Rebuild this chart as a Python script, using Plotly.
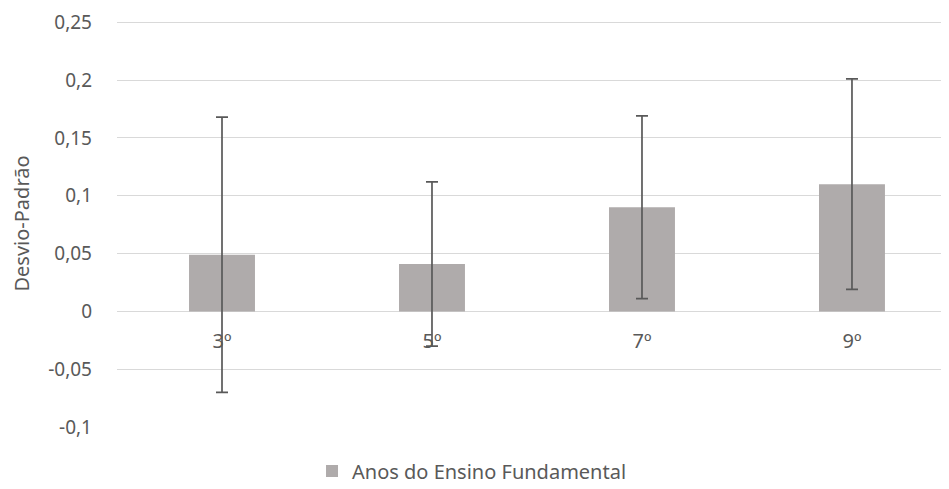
import plotly.graph_objects as go

categories = ["3º", "5º", "7º", "9º"]
values = [0.049, 0.041, 0.090, 0.110]
errors = [0.119, 0.071, 0.079, 0.091]
series_name = "Anos do Ensino Fundamental"
y_tickvals = [0.25, 0.2, 0.15, 0.1, 0.05, 0, -0.05, -0.1]
y_ticktext = ["0,25", "0,2", "0,15", "0,1", "0,05", "0", "-0,05", "-0,1"]

FONT = "Noto Sans"
TXT = "#595959"

fig = go.Figure()
fig.add_trace(go.Bar(
    x=list(range(len(categories))),
    y=values,
    name=series_name,
    marker=dict(color="#AFABAB", line=dict(width=0)),
    width=0.314,
    error_y=dict(type="data", array=errors, visible=True,
                 color="#595959", thickness=1.7, width=6),
    showlegend=True,
))

# page has an 8px body margin; figure is sized so the plot fills the window
y0, y1 = -0.1, 0.252
plot_h = 407.31
fig.update_layout(
    width=941, height=481,
    paper_bgcolor="white", plot_bgcolor="white",
    margin=dict(l=109, r=0, t=11.69, b=62, autoexpand=False),
    font=dict(family=FONT, size=19, color=TXT),
    showlegend=True,
    legend=dict(orientation="h", x=0.2344, xanchor="left",
                y=-(44 / plot_h), yanchor="middle",
                font=dict(family=FONT, size=20, color=TXT), itemwidth=30),
    xaxis=dict(
        range=[-0.5, 3.462],
        tickvals=list(range(len(categories))),
        ticktext=categories,
        anchor="free",
        position=(0 - y0) / (y1 - y0),
        showgrid=False, showline=False, zeroline=False,
        ticks="", ticklabelstandoff=16, automargin=False,
        tickfont=dict(family=FONT, size=20, color=TXT),
    ),
    yaxis=dict(
        range=[y0, y1],
        tickvals=y_tickvals,
        ticktext=y_ticktext,
        showgrid=True, gridcolor="#D9D9D9", gridwidth=1,
        zeroline=True, zerolinecolor="#D9D9D9", zerolinewidth=1,
        showline=False, ticks="", automargin=False,
        ticklabelstandoff=24,
        tickfont=dict(family=FONT, size=19, color=TXT),
        title=dict(text="Desvio-Padrão", font=dict(family=FONT, size=20, color=TXT), standoff=14),
    ),
)

fig.write_html("out.html")
